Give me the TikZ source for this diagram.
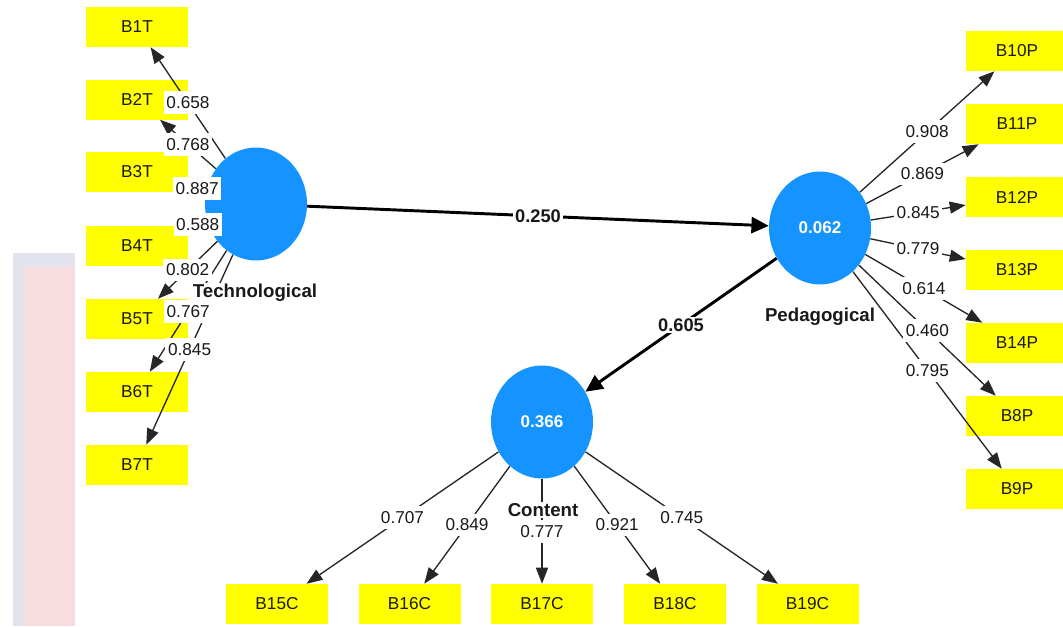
\documentclass[tikz,border=0pt]{standalone}
\usepackage{fontspec}
\setmainfont{Liberation Sans}
\usetikzlibrary{shapes.geometric,arrows.meta}
\definecolor{lvblue}{HTML}{1593FF}
\definecolor{bggrey}{HTML}{E2E3ED}
\definecolor{bgpink}{HTML}{F8DDDE}
\definecolor{boxyellow}{HTML}{FFFF00}
\begin{document}
\begin{tikzpicture}[x=0.75pt,y=-0.75pt,
  ind/.style={fill=boxyellow, minimum width=76.5pt, minimum height=30pt, inner sep=0pt, font=\fontsize{12.9}{15}\selectfont, text=black!90},
  lv/.style={ellipse, fill=lvblue, minimum width=76.5pt, minimum height=84.75pt, inner sep=0pt, text=white, font=\bfseries\fontsize{12.75}{15}\selectfont},
  ld/.style={draw=black!85, line width=1pt, -{Triangle[length=12pt,width=9pt]}},
  pth/.style={draw=black, line width=2.2pt, -{Triangle[length=13pt,width=12pt]}},
  lbl/.style={fill=white, inner xsep=2pt, inner ysep=4pt, font=\fontsize{12.9}{15}\selectfont, text=black!90},
  plbl/.style={fill=white, inner sep=1.5pt, font=\bfseries\fontsize{13.7}{15}\selectfont, text=black!90},
  lvname/.style={fill=white, inner sep=1pt, font=\bfseries\fontsize{14}{16}\selectfont, text=black!90}
]
\useasboundingbox (0,0) rectangle (1063,626);
\clip (0,0) rectangle (1063,626);
% background strip
\fill[bggrey] (13,253) rectangle (75,626);
\fill[bgpink] (24,267) rectangle (75,626);

% indicators: Technological
\node[ind] (B1T) at (137,27) {B1T};
\node[ind] (B2T) at (137,99.5) {B2T};
\node[ind] (B3T) at (137,172) {B3T};
\node[ind] (B4T) at (137,246) {B4T};
\node[ind] (B5T) at (137,319) {B5T};
\node[ind] (B6T) at (137,392) {B6T};
\node[ind] (B7T) at (137,465) {B7T};
% indicators: Pedagogical
\node[ind] (B10P) at (1017,51) {B10P};
\node[ind] (B11P) at (1017,124) {B11P};
\node[ind] (B12P) at (1017,197) {B12P};
\node[ind] (B13P) at (1017,270) {B13P};
\node[ind] (B14P) at (1017,343) {B14P};
\node[ind] (B8P) at (1017,416) {B8P};
\node[ind] (B9P) at (1017,489) {B9P};
% indicators: Content
\node[ind] (B15C) at (277,604) {B15C};
\node[ind] (B16C) at (409.5,604) {B16C};
\node[ind] (B17C) at (542,604) {B17C};
\node[ind] (B18C) at (675,604) {B18C};
\node[ind] (B19C) at (807.5,604) {B19C};

% latent variables
\node[lv] (tech) at (256,204) {};
\node[lv] (ped) at (820,228) {0.062};
\node[lv] (con) at (542,422) {0.366};

% loading arrows
\foreach \t in {B1T,B2T,B3T,B4T,B5T,B6T,B7T} \draw[ld] (tech) -- (\t);
\foreach \t in {B10P,B11P,B12P,B13P,B14P,B8P,B9P} \draw[ld] (ped) -- (\t);
\foreach \t in {B15C,B16C,B17C,B18C,B19C} \draw[ld] (con) -- (\t);

% path arrows
\draw[pth] (tech) -- (ped);
\draw[pth] (ped) -- (con);

% loading labels
\foreach \t/\v in {B1T/0.658,B2T/0.768,B3T/0.887,B4T/0.588,B5T/0.802,B6T/0.767,B7T/0.845}
  \path (tech) -- node[lbl]{\v} (\t);
\foreach \t/\v in {B10P/0.908,B11P/0.869,B12P/0.845,B13P/0.779,B14P/0.614,B8P/0.460,B9P/0.795}
  \path (ped) -- node[lbl]{\v} (\t);
\foreach \t/\v in {B15C/0.707,B16C/0.849,B17C/0.777,B18C/0.921,B19C/0.745}
  \path (con) -- node[lbl]{\v} (\t);

% path coefficients
\path (tech) -- node[plbl]{0.250} (ped);
\path (ped) -- node[plbl]{0.605} (con);

% latent variable names
\node[lvname] (techname) at (255,293) {Technological};
\node[lvname] (pedname) at (820,317) {Pedagogical};
\node[lvname] (conname) at (543,510) {Content};
\end{tikzpicture}
\end{document}
